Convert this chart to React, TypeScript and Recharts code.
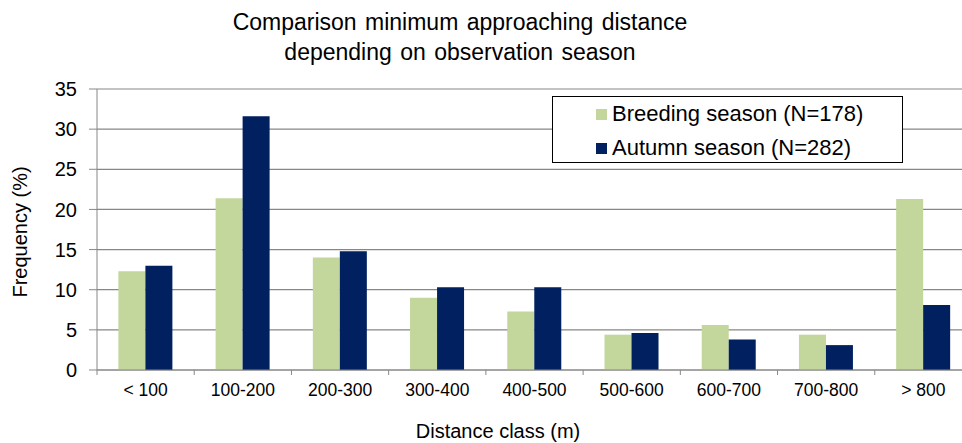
import { Bar, BarChart, CartesianGrid, Legend, XAxis, YAxis } from "recharts";

const categories = ["< 100", "100-200", "200-300", "300-400", "400-500", "500-600", "600-700", "700-800", "> 800"];
const breeding = [12.3, 21.4, 14.0, 9.0, 7.3, 4.4, 5.6, 4.4, 21.3];
const autumn = [13.0, 31.6, 14.8, 10.3, 10.3, 4.6, 3.8, 3.1, 8.1];
const yTicks = [0, 5, 10, 15, 20, 25, 30, 35];

const data = categories.map((c, i) => ({ range: c, breeding: breeding[i], autumn: autumn[i] }));

const FONT = "'Liberation Sans', Arial, sans-serif";
const GRID = "#878787";
const GREEN = "#C3D69B";
const NAVY = "#002060";
const X_TICK = 5;
const X_MARGIN = 9;

function XTick(props: any) {
  const { x, y, payload, index } = props;
  const off = payload?.offset ?? 48.6;
  const top = y - X_TICK - X_MARGIN;
  return (
    <g>
      <line x1={x - off} x2={x - off} y1={top} y2={top + X_TICK} stroke={GRID} />
      {index === categories.length - 1 && (
        <line x1={x + off} x2={x + off} y1={top} y2={top + X_TICK} stroke={GRID} />
      )}
      <text x={x} y={y} dy="0.71em" textAnchor="middle" fontSize={17.5} fill="#000" fontFamily={FONT}>
        {payload.value}
      </text>
    </g>
  );
}

function LegendBox() {
  const items = [
    { label: "Breeding season (N=178)", color: GREEN },
    { label: "Autumn season (N=282)", color: NAVY },
  ];
  return (
    <div
      style={{
        border: "1.5px solid #000",
        background: "#fff",
        height: 67,
        boxSizing: "border-box",
        fontFamily: FONT,
        fontSize: 22,
        color: "#000",
      }}
    >
      {items.map((it) => (
        <div key={it.label} style={{ height: 34, lineHeight: "34px", display: "flex", alignItems: "center", paddingLeft: 43 }}>
          <span style={{ width: 11, height: 11, background: it.color, marginRight: 5, display: "inline-block" }} />
          <span>{it.label}</span>
        </div>
      ))}
    </div>
  );
}

export default function App() {
  return (
    <div
      style={{
        position: "absolute",
        left: 0,
        top: 0,
        width: 962,
        height: 443,
        overflow: "hidden",
        background: "#fff",
        fontFamily: FONT,
        color: "#000",
      }}
    >
      <div
        style={{
          position: "absolute",
          left: 0,
          width: 920,
          top: 7,
          textAlign: "center",
          fontSize: 23,
          lineHeight: "30px",
          wordSpacing: 2,
        }}
      >
        Comparison minimum approaching distance
        <br />
        depending on observation season
      </div>
      <div
        style={{
          position: "absolute",
          left: 20,
          top: 232,
          fontSize: 20,
          transform: "translate(-50%, -50%) rotate(-90deg)",
          whiteSpace: "nowrap",
        }}
      >
        Frequency (%)
      </div>
      <div
        style={{
          position: "absolute",
          left: 498,
          top: 431,
          fontSize: 20,
          transform: "translate(-50%, -50%)",
          whiteSpace: "nowrap",
        }}
      >
        Distance class (m)
      </div>
      <BarChart
        width={972}
        height={443}
        data={data}
        margin={{ top: 89, right: 0, bottom: 43, left: 0 }}
        barCategoryGap="22%"
        barGap={0}
      >
        <CartesianGrid vertical={false} stroke={GRID} strokeWidth={1.2} />
        <XAxis
          dataKey="range"
          height={30}
          axisLine={{ stroke: GRID }}
          tickLine={false}
          tickSize={X_TICK}
          tickMargin={X_MARGIN}
          tick={<XTick />}
          interval={0}
        />
        <YAxis
          width={97}
          domain={[0, 35]}
          ticks={yTicks}
          axisLine={{ stroke: GRID }}
          tickLine={{ stroke: GRID }}
          tickSize={8}
          tickMargin={12}
          tick={{ fontSize: 20, fill: "#000", fontFamily: FONT }}
        />
        <Legend
          layout="vertical"
          align="center"
          verticalAlign="middle"
          wrapperStyle={{ position: "absolute", left: 552, top: 96, width: 351 }}
          content={<LegendBox />}
        />
        <Bar dataKey="breeding" name="Breeding season (N=178)" fill={GREEN} isAnimationActive={false} />
        <Bar dataKey="autumn" name="Autumn season (N=282)" fill={NAVY} isAnimationActive={false} />
      </BarChart>
    </div>
  );
}
